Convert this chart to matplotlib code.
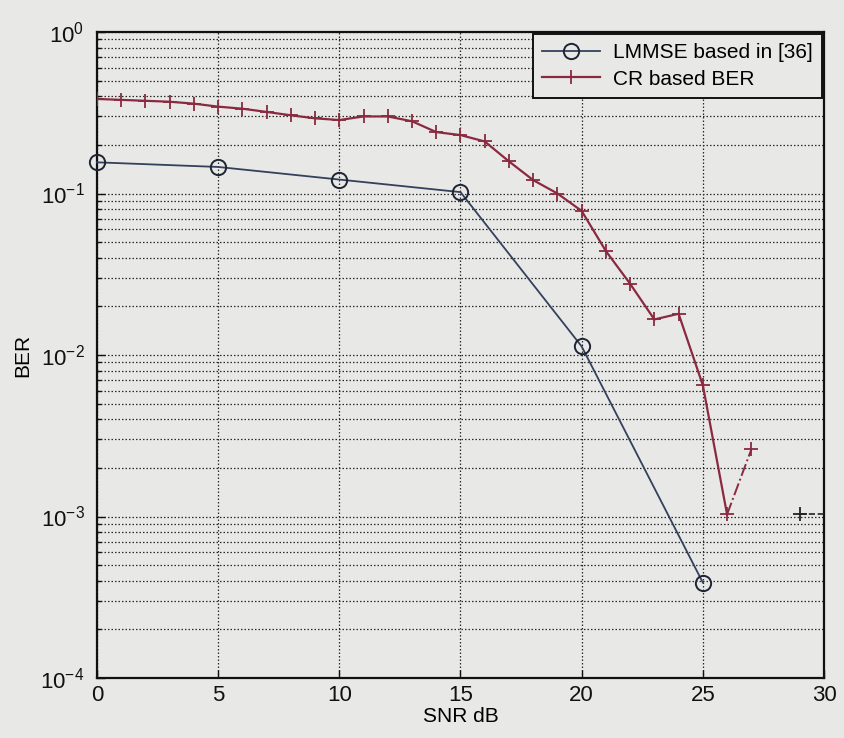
import numpy as np
import matplotlib
matplotlib.use("Agg")
import matplotlib.pyplot as plt
from matplotlib.ticker import LogLocator, FixedLocator, NullFormatter

# ---- data ----
lmmse_snr = [0, 5, 10, 15, 20, 25]
lmmse_ber = [0.156, 0.146, 0.122, 0.102, 0.0113, 0.00039]

cr_snr = [0, 1, 2, 3, 4, 5, 6, 7, 8, 9, 10, 11, 12, 13, 14, 15, 16, 17, 18, 19,
          20, 21, 22, 23, 24, 25, 26, 27, 28, 29, 30]
cr_ber = [0.385, 0.38, 0.375, 0.37, 0.36, 0.345, 0.335, 0.32, 0.305, 0.292,
          0.285, 0.30, 0.30, 0.28, 0.24, 0.23, 0.21, 0.158, 0.121, 0.10,
          0.078, 0.044, 0.0276, 0.0166, 0.018, 0.0065, 0.00103, 0.0026,
          np.nan, 0.00103, 0.00103]

x_ticks = [0, 5, 10, 15, 20, 25, 30]
legend_labels = ["LMMSE based in [36]", "CR based BER"]
x_label = "SNR dB"
y_label = "BER"

# ---- style ----
plt.rcParams['font.family'] = ['Liberation Sans', 'DejaVu Sans']
plt.rcParams['mathtext.fontset'] = 'custom'
plt.rcParams['mathtext.rm'] = 'Liberation Sans'
plt.rcParams['mathtext.default'] = 'regular'

W, H = 845, 738
fig = plt.figure(figsize=(W / 100, H / 100), dpi=100)
bg = '#e8e8e6'
fig.patch.set_facecolor(bg)
L, R, T, B = 97, 824, 32, 678
ax = fig.add_axes([L / W, 1 - B / H, (R - L) / W, (B - T) / H])
ax.set_facecolor(bg)

ax.set_yscale('log')
ax.set_xlim(0, 30)
ax.set_ylim(1e-4, 1)

blue = '#33415c'
red = '#8a2a40'

cr_x = np.array(cr_snr, dtype=float)
cr_y = np.array(cr_ber, dtype=float)

ax.plot(lmmse_snr, lmmse_ber, color=blue, lw=1.3, marker='o', ms=11,
        mfc='none', mec='#1e2433', mew=1.4, label=legend_labels[0], zorder=3,
        clip_on=False)
# main CR curve (0..26 dB)
ax.plot(cr_x[:27], cr_y[:27], color=red, lw=1.6, marker='+', ms=10, mew=1.3,
        label=legend_labels[1], zorder=3)
# faint dash-dot tail 26..27 dB
ax.plot(cr_x[26:28], cr_y[26:28], color=red, lw=1.4, ls='-.', marker='+',
        ms=10, mew=1.3, zorder=3, markevery=[1])
# last fragment 29..30 dB
ax.plot(cr_x[29:], cr_y[29:], color='#222222', lw=1.2, ls='--', marker='+',
        ms=10, mew=1.3, zorder=3, markevery=[0])

# grid
gkw = dict(color='#2a2a2a', lw=0.9, ls=(0, (1.2, 1.6)))
ax.xaxis.set_major_locator(FixedLocator(x_ticks))
ax.yaxis.set_major_locator(LogLocator(base=10, numticks=10))
ax.yaxis.set_minor_locator(LogLocator(base=10, subs=np.arange(2, 10), numticks=50))
ax.yaxis.set_minor_formatter(NullFormatter())
ax.grid(True, which='major', axis='both', **gkw)
ax.grid(True, which='minor', axis='y', **gkw)

for s in ax.spines.values():
    s.set_linewidth(1.6)
    s.set_color('#111111')

ax.tick_params(axis='both', which='both', direction='in', colors='#111111',
               labelsize=16, length=6, width=1.0)
ax.tick_params(axis='y', which='minor', length=3)
ax.tick_params(axis='y', pad=9)
ax.tick_params(axis='x', pad=5)

ax.set_xlabel(x_label, fontsize=15, labelpad=1)
ax.set_ylabel(y_label, fontsize=15, labelpad=6)

leg = ax.legend(loc='upper right', fontsize=15, frameon=True, fancybox=False,
                edgecolor='#111111', facecolor=bg, framealpha=1,
                borderaxespad=0.1, handlelength=2.8, handletextpad=0.6,
                borderpad=0.45, labelspacing=0.35)
leg.get_frame().set_linewidth(1.4)

fig.savefig('out.png', dpi=100, facecolor=fig.get_facecolor())
